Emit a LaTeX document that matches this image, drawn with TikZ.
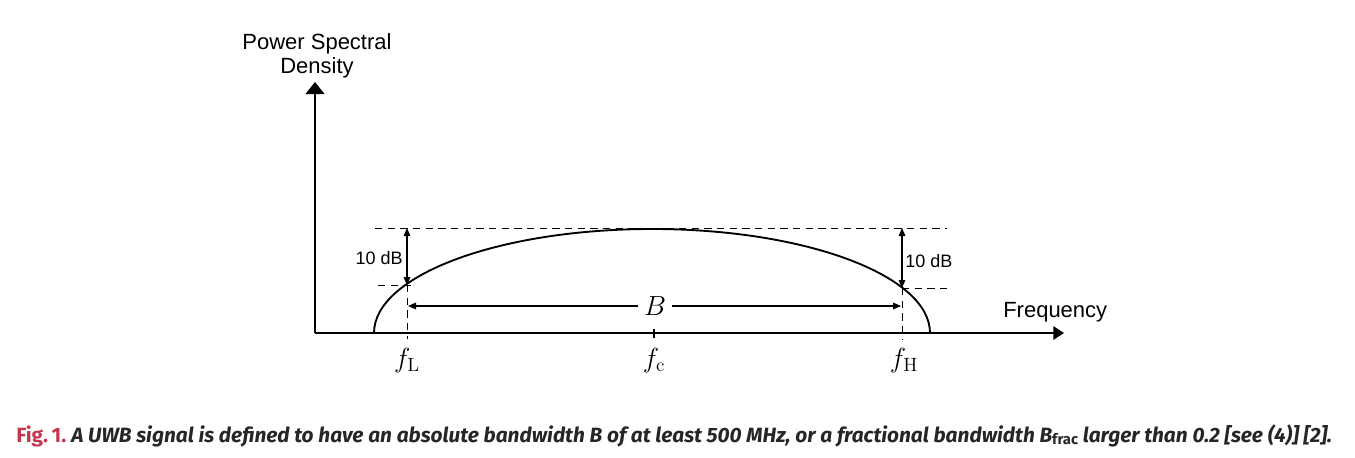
\documentclass[tikz,border=0pt]{standalone}
\usepackage[no-math]{fontspec}
\setmainfont{Liberation Sans}
\newfontfamily\capfont{Fira Sans}
\usetikzlibrary{arrows.meta}
\definecolor{figred}{RGB}{196,56,78}
\definecolor{captxt}{RGB}{38,38,40}
\begin{document}
\begin{tikzpicture}[x=0.75pt,y=-0.75pt,
  axisline/.style={line width=1.5pt},
  guide/.style={line width=0.75pt,dash pattern=on 5.5pt off 4pt},
  dbarrow/.style={line width=0.8pt,{Triangle[length=6pt,width=5pt]}-{Triangle[length=6pt,width=5pt]}},
  barrow/.style={line width=0.8pt,-{Triangle[length=6pt,width=5pt]}},
  lab/.style={inner sep=0pt,font=\fontsize{16.5}{19.5}\selectfont},
  dblab/.style={inner sep=0pt,font=\fontsize{13.5}{16}\selectfont},
  mathlab/.style={inner sep=0pt,font=\fontsize{20.74}{25}\selectfont}]
\useasboundingbox (0,0) rectangle (1355,457);

% coordinates
\coordinate (O) at (315,333);
\coordinate (ytip) at (315,82);
\coordinate (xtip) at (1064,333);
\coordinate (cs) at (374,333);
\coordinate (tl) at (375,228);
\coordinate (tr) at (947,228);
\coordinate (lL) at (378,285);
\coordinate (lR) at (412,285);
\coordinate (rL) at (902,288);
\coordinate (rR) at (950,288);
\coordinate (fLtop) at (407,228);
\coordinate (fLc) at (407,285);
\coordinate (fLbot) at (407,339);
\coordinate (fHtop) at (902,228);
\coordinate (fHc) at (902,288);
\coordinate (fHbot) at (902,339);
\coordinate (bl) at (408,306);
\coordinate (br) at (901,306);
\coordinate (fct) at (654,329);
\coordinate (fcb) at (654,338);

% axes
\draw[axisline,-{Triangle[length=9pt,width=14pt]}] (O) -- (ytip);
\draw[axisline,-{Triangle[length=8pt,width=10pt]}] (O) -- (xtip);

% spectrum curve
\draw[line width=1.4pt] (cs) arc[start angle=180,end angle=0,x radius=208.5pt,y radius=78pt];

% dashed guides
\draw[guide] (tl) -- (tr);
\draw[guide] (lL) -- (lR);
\draw[guide] (rL) -- (rR);
\draw[guide] (fLc) -- (fLbot);
\draw[guide] (fHc) -- (fHbot);
\draw[line width=0.8pt] (fct) -- (fcb);

% 10 dB arrows
\draw[dbarrow] (fLtop) -- (fLc);
\draw[dbarrow] (fHtop) -- (fHc);

% bandwidth arrow
\node[mathlab,fill=white,inner xsep=4pt] (B) at (655,306) {$B$};
\draw[barrow] (B.west) -- (bl);
\draw[barrow] (B.east) -- (br);

% labels
\node[lab,align=center,anchor=south] (psd) at (317,78) {Power Spectral\\[-1.5pt]Density};
\node[lab,anchor=base west] (freq) at (1003,317) {Frequency};
\node[dblab,anchor=base east] (dbl) at (403,264) {10 dB};
\node[dblab,anchor=base west] (dbr) at (905,267) {10 dB};
\node[mathlab,anchor=base] (fL) at (407,367) {$f_{\mathrm{L}}$};
\node[mathlab,anchor=base] (fc) at (654,367) {$f_{\mathrm{c}}$};
\node[mathlab,anchor=base] (fH) at (904,367) {$f_{\mathrm{H}}$};

% caption
\node[inner sep=0pt,anchor=base west] (cap) at (16,442) {\resizebox{987pt}{\height}{\capfont\fontsize{15.5}{18}\selectfont\bfseries
  \textcolor{figred}{\upshape Fig.\,1.}\ \textcolor{captxt}{\itshape A UWB signal is defined to have an absolute bandwidth B of at least 500 MHz, or a fractional bandwidth B\raisebox{-0.25ex}{\upshape\fontsize{11}{12}\selectfont frac} larger than 0.2 [see (4)] [2].}}};
\end{tikzpicture}
\end{document}
